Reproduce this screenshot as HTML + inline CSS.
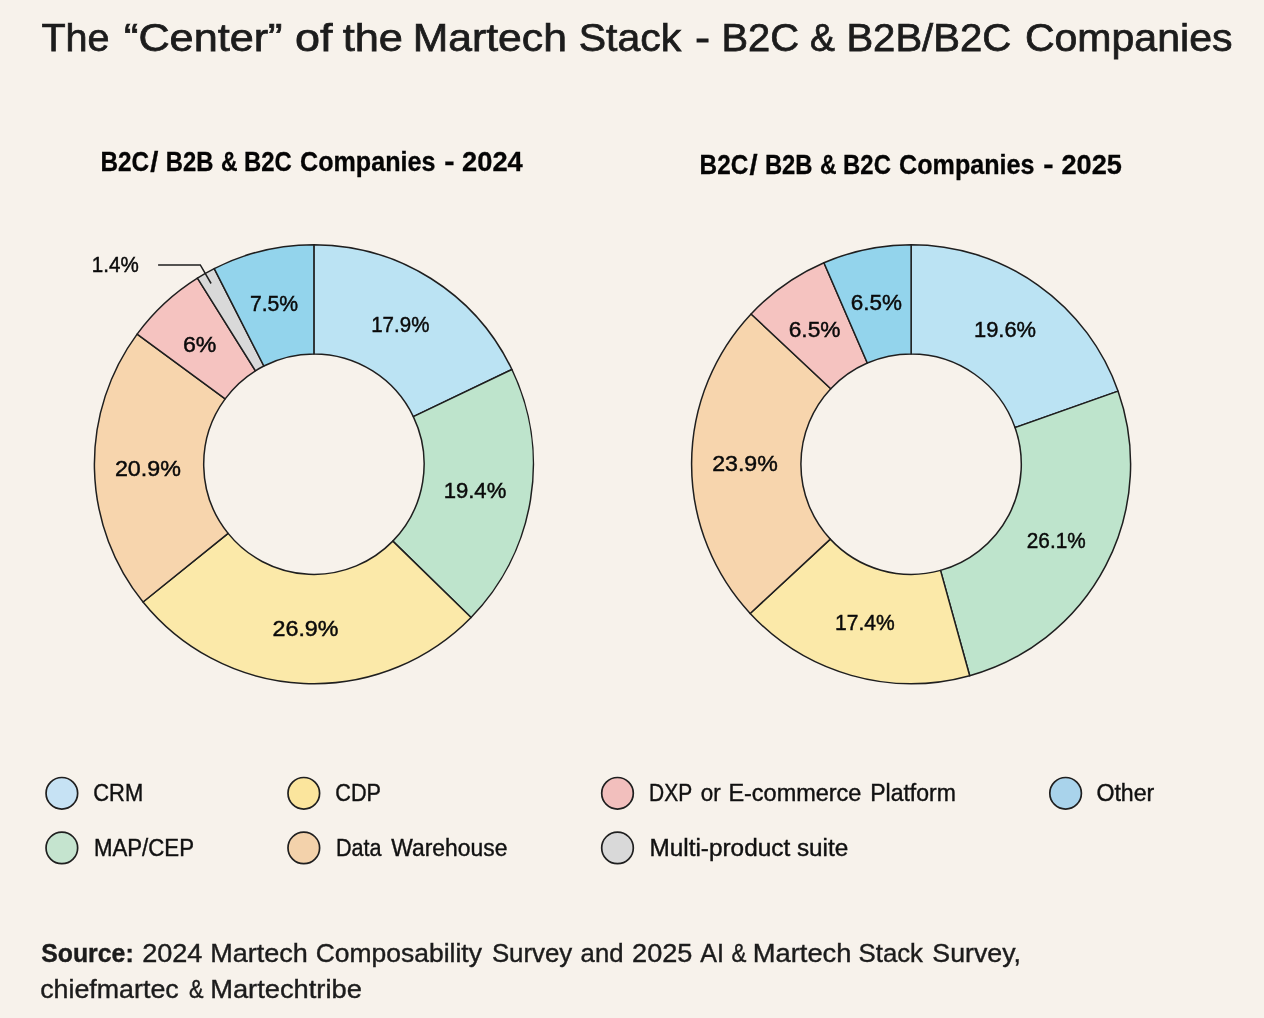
<!DOCTYPE html>
<html lang="en"><head><meta charset="utf-8"><title>The Center of the Martech Stack</title>
<style>
html,body{margin:0;padding:0;background:#f7f2eb;}
body{width:1264px;height:1018px;overflow:hidden;font-family:"Liberation Sans",sans-serif;}
svg{display:block;font-family:"Liberation Sans",sans-serif;}
.seg path{stroke:#1f1f1f;stroke-width:1.5;stroke-linejoin:round;}
.title text{font-size:39.7px;fill:#1c1c1c;stroke:#1c1c1c;stroke-width:0.75px;}
.sub text{font-size:27.3px;font-weight:700;fill:#050505;stroke:#050505;stroke-width:0.3px;}
.lab text{font-size:22.5px;fill:#0a0a0a;stroke:#0a0a0a;stroke-width:0.45px;}
.leg text{font-size:23.5px;fill:#111;stroke:#111;stroke-width:0.4px;}
.leg circle{stroke:#1f1f1f;stroke-width:1.7;}
.src text{font-size:26px;fill:#1c1c1c;stroke:#1c1c1c;stroke-width:0.4px;}
</style></head><body>
<svg width="1264" height="1018" viewBox="0 0 1264 1018">
<rect width="1264" height="1018" fill="#f7f2eb"/>
<g class="title">
<text x="41.4" y="51.3" textLength="68.1" lengthAdjust="spacingAndGlyphs">The</text>
<text x="124.0" y="51.3" textLength="158.5" lengthAdjust="spacingAndGlyphs">“Center”</text>
<text x="295.0" y="51.3" textLength="37.5" lengthAdjust="spacingAndGlyphs">of</text>
<text x="342.7" y="51.3" textLength="60.3" lengthAdjust="spacingAndGlyphs">the</text>
<text x="412.7" y="51.3" textLength="154.2" lengthAdjust="spacingAndGlyphs">Martech</text>
<text x="578.7" y="51.3" textLength="102.5" lengthAdjust="spacingAndGlyphs">Stack</text>
<text x="694.9" y="51.3" textLength="15.1" lengthAdjust="spacingAndGlyphs">-</text>
<text x="721.4" y="51.3" textLength="77.6" lengthAdjust="spacingAndGlyphs">B2C</text>
<text x="810.0" y="51.3" textLength="24.9" lengthAdjust="spacingAndGlyphs">&amp;</text>
<text x="846.4" y="51.3" textLength="164.8" lengthAdjust="spacingAndGlyphs">B2B/B2C</text>
<text x="1024.9" y="51.3" textLength="207.6" lengthAdjust="spacingAndGlyphs">Companies</text>
</g>
<g class="sub">
<text x="100.5" y="170.7" textLength="48.7" lengthAdjust="spacingAndGlyphs">B2C</text>
<text x="150.3" y="170.7" textLength="8.1" lengthAdjust="spacingAndGlyphs">/</text>
<text x="165.8" y="170.7" textLength="47.7" lengthAdjust="spacingAndGlyphs">B2B</text>
<text x="220.9" y="170.7" textLength="16.6" lengthAdjust="spacingAndGlyphs">&amp;</text>
<text x="244.0" y="170.7" textLength="47.8" lengthAdjust="spacingAndGlyphs">B2C</text>
<text x="300.0" y="170.7" textLength="135.4" lengthAdjust="spacingAndGlyphs">Companies</text>
<text x="444.2" y="170.7" textLength="10.3" lengthAdjust="spacingAndGlyphs">-</text>
<text x="462.1" y="170.7" textLength="60.6" lengthAdjust="spacingAndGlyphs">2024</text>
<text x="699.6" y="173.7" textLength="48.7" lengthAdjust="spacingAndGlyphs">B2C</text>
<text x="749.4" y="173.7" textLength="8.1" lengthAdjust="spacingAndGlyphs">/</text>
<text x="764.9" y="173.7" textLength="47.7" lengthAdjust="spacingAndGlyphs">B2B</text>
<text x="820.0" y="173.7" textLength="16.6" lengthAdjust="spacingAndGlyphs">&amp;</text>
<text x="843.1" y="173.7" textLength="47.8" lengthAdjust="spacingAndGlyphs">B2C</text>
<text x="899.1" y="173.7" textLength="135.4" lengthAdjust="spacingAndGlyphs">Companies</text>
<text x="1043.3" y="173.7" textLength="10.3" lengthAdjust="spacingAndGlyphs">-</text>
<text x="1061.5" y="173.7" textLength="60.4" lengthAdjust="spacingAndGlyphs">2025</text>
</g>
<g class="seg">
<path d="M313.90 244.70A219.5 219.5 0 0 1 511.92 369.50L413.32 416.65A110.2 110.2 0 0 0 313.90 354.00Z" fill="#bbe3f3"/>
<path d="M511.92 369.50A219.5 219.5 0 0 1 471.05 617.45L392.80 541.14A110.2 110.2 0 0 0 413.32 416.65Z" fill="#bee4cc"/>
<path d="M471.05 617.45A219.5 219.5 0 0 1 143.03 601.98L228.11 533.37A110.2 110.2 0 0 0 392.80 541.14Z" fill="#fbe9a9"/>
<path d="M143.03 601.98A219.5 219.5 0 0 1 137.13 334.07L225.16 398.87A110.2 110.2 0 0 0 228.11 533.37Z" fill="#f7d5ad"/>
<path d="M137.13 334.07A219.5 219.5 0 0 1 197.45 278.13L255.44 370.79A110.2 110.2 0 0 0 225.16 398.87Z" fill="#f5c3c0"/>
<path d="M197.45 278.13A219.5 219.5 0 0 1 214.25 268.62L263.87 366.01A110.2 110.2 0 0 0 255.44 370.79Z" fill="#d9d9d9"/>
<path d="M214.25 268.62A219.5 219.5 0 0 1 313.90 244.70L313.90 354.00A110.2 110.2 0 0 0 263.87 366.01Z" fill="#93d4ec"/>
<path d="M911.10 244.70A219.5 219.5 0 0 1 1118.09 391.15L1015.02 427.52A110.2 110.2 0 0 0 911.10 354.00Z" fill="#bbe3f3"/>
<path d="M1118.09 391.15A219.5 219.5 0 0 1 969.68 675.74L940.51 570.40A110.2 110.2 0 0 0 1015.02 427.52Z" fill="#bee4cc"/>
<path d="M969.68 675.74A219.5 219.5 0 0 1 750.15 613.45L830.30 539.13A110.2 110.2 0 0 0 940.51 570.40Z" fill="#fbe9a9"/>
<path d="M750.15 613.45A219.5 219.5 0 0 1 751.09 313.94L830.77 388.76A110.2 110.2 0 0 0 830.30 539.13Z" fill="#f7d5ad"/>
<path d="M751.09 313.94A219.5 219.5 0 0 1 823.93 262.75L867.33 363.06A110.2 110.2 0 0 0 830.77 388.76Z" fill="#f5c3c0"/>
<path d="M823.93 262.75A219.5 219.5 0 0 1 911.10 244.70L911.10 354.00A110.2 110.2 0 0 0 867.33 363.06Z" fill="#93d4ec"/>
</g>
<path d="M158.1 264.9H200.3L211.1 283.5" fill="none" stroke="#1f1f1f" stroke-width="1.5"/>
<g class="lab">
<text x="371.2" y="332.4" textLength="58.2" lengthAdjust="spacingAndGlyphs">17.9%</text>
<text x="443.7" y="497.7" textLength="62.6" lengthAdjust="spacingAndGlyphs">19.4%</text>
<text x="272.5" y="636.0" textLength="66.0" lengthAdjust="spacingAndGlyphs">26.9%</text>
<text x="114.9" y="476.2" textLength="66.0" lengthAdjust="spacingAndGlyphs">20.9%</text>
<text x="182.9" y="351.5" textLength="33.5" lengthAdjust="spacingAndGlyphs">6%</text>
<text x="249.9" y="311.2" textLength="48.3" lengthAdjust="spacingAndGlyphs">7.5%</text>
<text x="91.8" y="271.8" textLength="46.9" lengthAdjust="spacingAndGlyphs">1.4%</text>
<text x="974.0" y="336.6" textLength="62.1" lengthAdjust="spacingAndGlyphs">19.6%</text>
<text x="1026.8" y="547.5" textLength="58.9" lengthAdjust="spacingAndGlyphs">26.1%</text>
<text x="835.1" y="629.7" textLength="59.7" lengthAdjust="spacingAndGlyphs">17.4%</text>
<text x="712.2" y="471.3" textLength="65.6" lengthAdjust="spacingAndGlyphs">23.9%</text>
<text x="788.7" y="336.6" textLength="51.8" lengthAdjust="spacingAndGlyphs">6.5%</text>
<text x="850.7" y="310.2" textLength="51.2" lengthAdjust="spacingAndGlyphs">6.5%</text>
</g>
<g class="leg">
<circle cx="61.85" cy="793.3" r="15.8" fill="#c6e2f4"/>
<circle cx="61.85" cy="847.9" r="15.8" fill="#c5e4cf"/>
<circle cx="303.8" cy="793.3" r="15.8" fill="#fbe59d"/>
<circle cx="303.8" cy="847.9" r="15.8" fill="#f3d2ab"/>
<circle cx="617.5" cy="793.3" r="15.8" fill="#f2bfbd"/>
<circle cx="617.5" cy="847.9" r="15.8" fill="#d9d9d9"/>
<circle cx="1065.6" cy="793.3" r="15.8" fill="#a9d3eb"/>
<text x="93.2" y="801.1" textLength="50.0" lengthAdjust="spacingAndGlyphs">CRM</text>
<text x="93.9" y="855.8" textLength="100.1" lengthAdjust="spacingAndGlyphs">MAP/CEP</text>
<text x="335.3" y="801.1" textLength="45.7" lengthAdjust="spacingAndGlyphs">CDP</text>
<text x="335.9" y="855.8" textLength="45.6" lengthAdjust="spacingAndGlyphs">Data</text>
<text x="391.3" y="855.8" textLength="116.1" lengthAdjust="spacingAndGlyphs">Warehouse</text>
<text x="649.1" y="801.1" textLength="43.1" lengthAdjust="spacingAndGlyphs">DXP</text>
<text x="700.7" y="801.1" textLength="19.9" lengthAdjust="spacingAndGlyphs">or</text>
<text x="728.4" y="801.1" textLength="133.0" lengthAdjust="spacingAndGlyphs">E-commerce</text>
<text x="870.2" y="801.1" textLength="85.6" lengthAdjust="spacingAndGlyphs">Platform</text>
<text x="649.5" y="855.8" textLength="198.8" lengthAdjust="spacingAndGlyphs">Multi-product suite</text>
<text x="1096.4" y="801.1" textLength="57.9" lengthAdjust="spacingAndGlyphs">Other</text>
</g>
<g class="src">
<text x="41.2" y="961.6" textLength="92.5" lengthAdjust="spacingAndGlyphs" font-weight="700">Source:</text>
<text x="142.2" y="961.6" textLength="60.2" lengthAdjust="spacingAndGlyphs">2024</text>
<text x="210.2" y="961.6" textLength="97.6" lengthAdjust="spacingAndGlyphs">Martech</text>
<text x="315.7" y="961.6" textLength="166.2" lengthAdjust="spacingAndGlyphs">Composability</text>
<text x="491.9" y="961.6" textLength="80.4" lengthAdjust="spacingAndGlyphs">Survey</text>
<text x="580.6" y="961.6" textLength="42.9" lengthAdjust="spacingAndGlyphs">and</text>
<text x="632.1" y="961.6" textLength="60.3" lengthAdjust="spacingAndGlyphs">2025</text>
<text x="700.3" y="961.6" textLength="23.7" lengthAdjust="spacingAndGlyphs">AI</text>
<text x="731.6" y="961.6" textLength="14.9" lengthAdjust="spacingAndGlyphs">&amp;</text>
<text x="752.8" y="961.6" textLength="98.6" lengthAdjust="spacingAndGlyphs">Martech</text>
<text x="858.6" y="961.6" textLength="64.4" lengthAdjust="spacingAndGlyphs">Stack</text>
<text x="932.3" y="961.6" textLength="88.7" lengthAdjust="spacingAndGlyphs">Survey,</text>
<text x="40.2" y="997.6" textLength="138.5" lengthAdjust="spacingAndGlyphs">chiefmartec</text>
<text x="189.0" y="997.6" textLength="14.5" lengthAdjust="spacingAndGlyphs">&amp;</text>
<text x="210.2" y="997.6" textLength="151.7" lengthAdjust="spacingAndGlyphs">Martechtribe</text>
</g>
</svg>
</body></html>
